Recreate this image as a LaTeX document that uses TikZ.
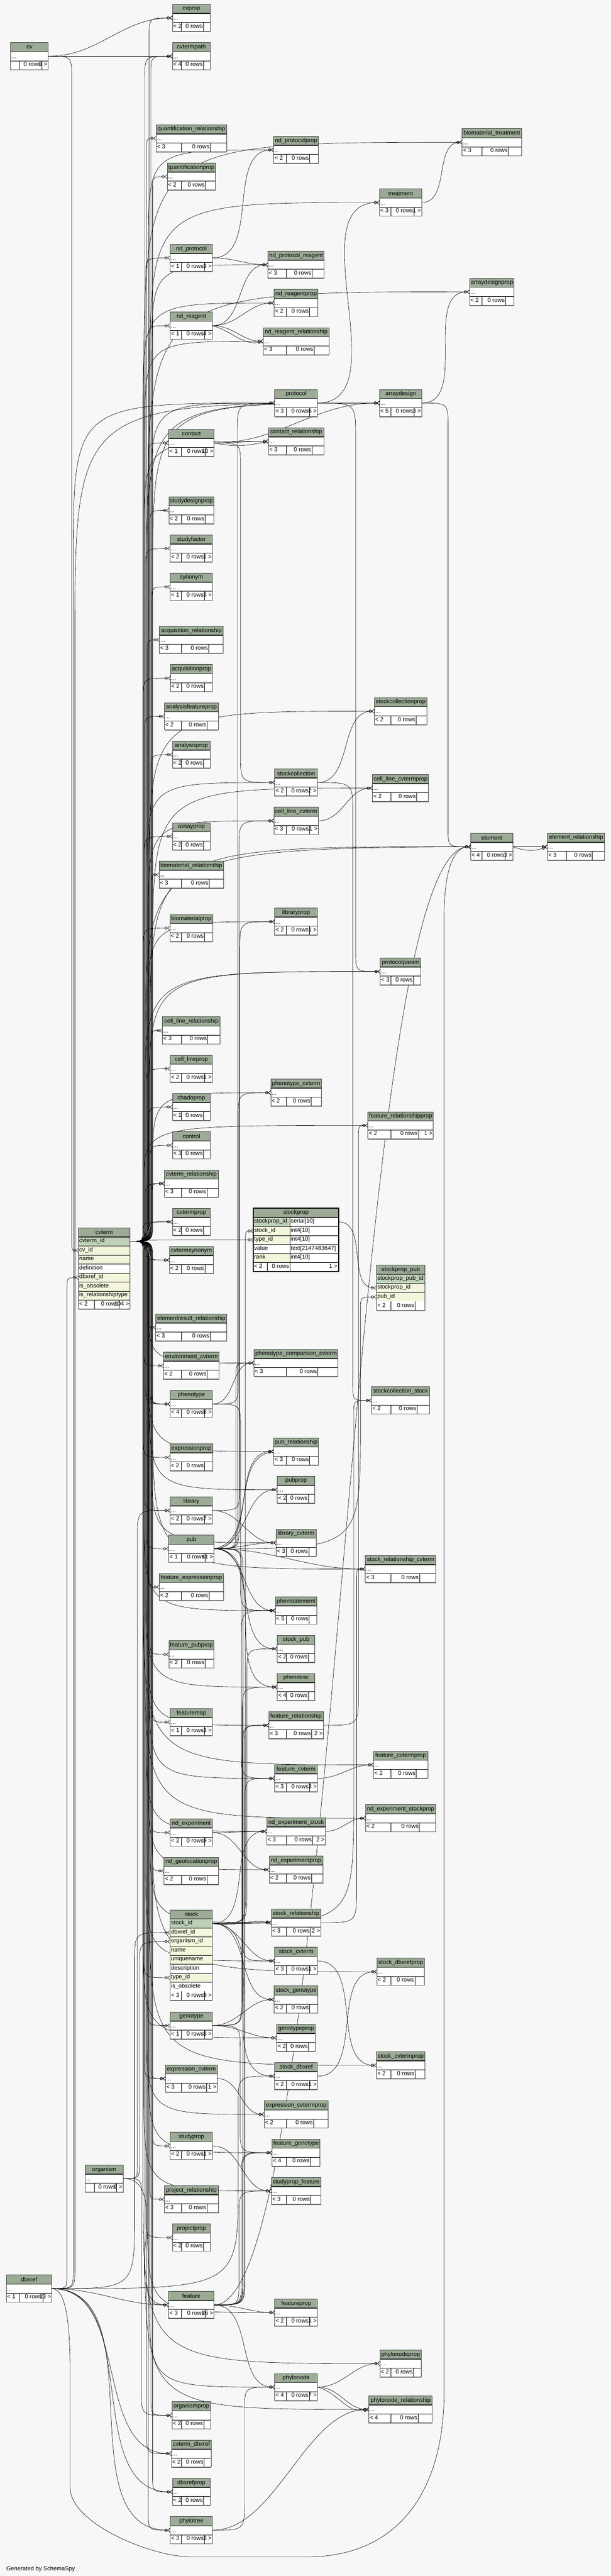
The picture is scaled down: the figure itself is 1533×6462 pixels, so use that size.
\documentclass[tikz,border=0pt]{standalone}
\usepackage{fontspec}
\setmainfont{Liberation Sans}
\usetikzlibrary{arrows.meta,calc}
\pgfdeclarelayer{bg}
\pgfdeclarelayer{edges}
\pgfsetlayers{bg,edges,main}
\definecolor{bgc}{HTML}{F7F7F7}
\definecolor{hdrc}{HTML}{9BAB96}
\definecolor{pkc}{HTML}{BED1B8}
\definecolor{ixc}{HTML}{F4F6DC}
\newcommand\tfont{\fontsize{14.67pt}{17pt}\selectfont}
\def\rowh{22.7}
\newlength\fwa \newlength\fwc
\tikzset{
  txt/.style={font=\tfont, inner sep=0pt, outer sep=0pt, text=black},
  tnode/.style={draw=none, inner sep=0pt, outer sep=0pt, rectangle},
  rowcell/.style={draw=black, line width=0.8pt, inner sep=0pt, outer sep=0pt, rectangle},
  cellline/.style={draw=black, line width=0.8pt},
  hdrline/.style={draw=black!85, line width=2pt},
  tborder/.style={draw=black!75, line width=1.2pt},
  shadowline/.style={draw=black!60, line width=2.2pt},
  fkline/.style={draw=black, line width=0.8pt, -{Circle[open,length=7pt,width=7pt] Straight Barb[reversed,length=6pt,width=10pt]}},
}
% footer row: #1 x0, #2 y, #3 W, #4 left text, #5 right text, #6 middle text
\newcommand\myfoot[6]{%
  \settowidth\fwa{\tfont #4}\settowidth\fwc{\tfont #5}%
  \pgfmathsetmacro\myna{\fwa>0 ? \fwa+1 : 8}%
  \pgfmathsetmacro\mync{\fwc>0 ? \fwc+5 : 8}%
  \pgfmathsetmacro\myex{max(#3-\myna-50-\mync,0)}%
  \pgfmathsetmacro\myca{#1+\myna+0.5*\myex}%
  \pgfmathsetmacro\mycb{\myca+50+0.2*\myex}%
  \pgfmathsetmacro\myfy{#2}%
  \draw[cellline] (\myca,\myfy) -- ++(0,\rowh) (\mycb,\myfy) -- ++(0,\rowh);
  \node[txt,anchor=mid west] at ({#1+2},{\myfy+\rowh/2}) {#4};
  \node[txt,anchor=mid east] at ({\mycb-2},{\myfy+\rowh/2}) {#6};
  \node[txt,anchor=mid east] at ({#1+#3-2},{\myfy+\rowh/2}) {#5};
}
% collapsed table: #1 id, #2 centre x, #3 top y, #4 width, #5 left footer, #6 right footer
\newcommand\mytbl[6]{%
  \pgfmathsetmacro\myx{#2-#4/2}%
  \node[tnode, minimum width=#4pt, minimum height=68.1pt] (#1) at (#2,{#3+34.05}) {};
  \fill[white] (\myx,#3) rectangle ++(#4,68.1);
  \fill[hdrc] (\myx,#3) rectangle ++(#4,\rowh);
  \node[txt] at (#2,{#3+\rowh/2}) {\detokenize{#1}};
  \node[txt,anchor=mid west] at ({\myx+2},{#3+1.62*\rowh}) {...};
  \draw[cellline] (\myx,{#3+2*\rowh}) -- ++(#4,0);
  \myfoot{\myx}{#3+2*\rowh}{#4}{#5}{#6}{0 rows}
  \draw[hdrline] (\myx,{#3+\rowh}) -- ++(#4,0);
  \draw[tborder] (\myx,#3) rectangle ++(#4,68.1);
  \draw[shadowline] (\myx,{#3+68.1}) -- ++(#4,0);
}
% detailed table: #1 id, #2 centre x, #3 top y, #4 width, #5 rows name/colour, #6 left, #7 right
\newcommand\mydtbl[7]{%
  \pgfmathsetmacro\myx{#2-#4/2}%
  \fill[hdrc] (\myx,#3) rectangle ++(#4,\rowh);
  \node[txt] at (#2,{#3+\rowh/2}) {\detokenize{#1}};
  \foreach \rn/\rs [count=\ri] in {#5} {%
    \node[rowcell, fill=\rs, minimum width=#4pt, minimum height=22.7pt, anchor=north west] (#1-\rn) at (\myx,{#3+\ri*\rowh}) {};
    \node[txt, anchor=mid west] at ({\myx+2},{#3+(\ri+0.5)*\rowh}) {\expandafter\detokenize\expandafter{\rn}};
    \xdef\mylast{\ri}%
  }%
  \pgfmathsetmacro\myfy{#3+(\mylast+1)*\rowh}%
  \fill[white] (\myx,\myfy) rectangle ++(#4,\rowh);
  \myfoot{\myx}{\myfy}{#4}{#6}{#7}{0 rows}
  \pgfmathsetmacro\myh{(\mylast+2)*\rowh}%
  \node[tnode, minimum width=#4pt, minimum height=\myh*1pt, anchor=north west] (#1) at (\myx,#3) {};
  \draw[hdrline] (\myx,{#3+\rowh}) -- ++(#4,0);
  \draw[tborder] (\myx,#3) rectangle ++(#4,\myh);
  \draw[shadowline] (\myx,{#3+\myh}) -- ++(#4,0);
}
% connector through a vertical run at x=#3
\newcommand\myfk[3]{%
  \draw[fkline] let \p1=(#1), \p2=(#2),
    \n2={ifthenelse(\y2>\y1,1,-1)},
    \n3={min(abs(\y2-(\y1))/2, max(30pt, 0.8*(\x2-#3pt)))},
    \n4={min(abs(\y2-(\y1))/2, max(25pt, 0.9*(#3pt-(\x1))))}
  in (\p1) .. controls (#3pt,\y1) .. (#3pt,{\y1+(\n2)*(\n4)})
     -- (#3pt,{\y2-(\n2)*(\n3)}) .. controls (#3pt,\y2) .. (\p2);%
}
\newcommand\myfkd[3][]{\draw[fkline] (#2) to[out=0,in=180,#1] (#3);}
\newcommand\myfkc[3]{\draw[fkline] (#1) .. controls +(#3,0) and +(-#3,0) .. (#2);}

\begin{document}
\begin{tikzpicture}[x=1pt,y=-1pt]
\useasboundingbox (0,0) rectangle (1533,6462);
\begin{pgfonlayer}{bg}
\fill[bgc] (0,0) rectangle (1533,6462);
\end{pgfonlayer}

% ---------- left tables
\mytbl{cv}{74}{107}{94}{}{3 >}
\mytbl{dbxref}{73}{5707}{114}{< 1}{23 >}
\mytbl{organism}{261.5}{5431}{95}{}{9 >}
\mydtbl{cvterm}{261.5}{3080}{129}{cvterm_id/pkc, cv_id/ixc, name/ixc, definition/white, dbxref_id/ixc, is_obsolete/ixc, is_relationshiptype/ixc}{< 2}{104 >}

% ---------- column C
\mytbl{cvprop}{480.5}{11}{95}{< 2}{}
\mytbl{cvtermpath}{480.5}{107}{95}{< 4}{}
\mytbl{quantification_relationship}{480.5}{313}{177}{< 3}{}
\mytbl{quantificationprop}{480.5}{409}{121}{< 2}{}
\mytbl{nd_protocol}{480.5}{613}{106}{< 1}{3 >}
\mytbl{nd_reagent}{480.5}{783}{106}{< 1}{4 >}
\mytbl{contact}{480.5}{1077}{114}{< 1}{10 >}
\mytbl{studydesignprop}{480.5}{1246}{113}{< 2}{}
\mytbl{studyfactor}{480.5}{1342}{106}{< 2}{1 >}
\mytbl{synonym}{480.5}{1438}{106}{< 1}{3 >}
\mytbl{acquisition_relationship}{480.5}{1571}{160}{< 3}{}
\mytbl{acquisitionprop}{480.5}{1667}{105}{< 2}{}
\mytbl{analysisfeatureprop}{480.5}{1763}{135}{< 2}{}
\mytbl{analysisprop}{480.5}{1859}{95}{< 2}{}
\mytbl{assayprop}{480.5}{2064}{95}{< 2}{}
\mytbl{biomaterial_relationship}{480.5}{2160}{162}{< 3}{}
\mytbl{biomaterialprop}{480.5}{2294}{107}{< 2}{}
\mytbl{cell_line_relationship}{480.5}{2551}{145}{< 3}{}
\mytbl{cell_lineprop}{480.5}{2647}{106}{< 2}{1 >}
\mytbl{chadoprop}{480.5}{2743}{95}{< 1}{}
\mytbl{control}{480.5}{2839}{95}{< 3}{}
\mytbl{cvterm_relationship}{480.5}{2935}{135}{< 3}{}
\mytbl{cvtermprop}{480.5}{3031}{95}{< 2}{}
\mytbl{cvtermsynonym}{480.5}{3127}{110}{< 2}{}
\mytbl{elementresult_relationship}{480.5}{3296}{178}{< 3}{}
\mytbl{environment_cvterm}{480.5}{3392}{140}{< 2}{}
\mytbl{phenotype}{480.5}{3488}{106}{< 4}{6 >}
\mytbl{expressionprop}{480.5}{3622}{107}{< 2}{}
\mytbl{library}{480.5}{3755}{106}{< 2}{7 >}
\mytbl{pub}{480.5}{3851}{114}{< 1}{41 >}
\mytbl{feature_expressionprop}{480.5}{3947}{161}{< 2}{}
\mytbl{feature_pubprop}{480.5}{4116}{113}{< 2}{}
\mytbl{featuremap}{480.5}{4286}{106}{< 1}{3 >}
\mytbl{nd_experiment}{480.5}{4563}{106}{< 2}{9 >}
\mytbl{nd_geolocationprop}{480.5}{4659}{137}{< 2}{}
\mydtbl{stock}{480.5}{4791}{106}{stock_id/pkc, dbxref_id/ixc, organism_id/ixc, name/ixc, uniquename/ixc, description/white, type_id/ixc, is_obsolete/white}{< 3}{9 >}
\mytbl{genotype}{480.5}{5047}{106}{< 1}{8 >}
\mytbl{expression_cvterm}{480.5}{5180}{130}{< 3}{1 >}
\mytbl{studyprop}{480.5}{5349}{106}{< 2}{1 >}
\mytbl{project_relationship}{480.5}{5483}{135}{< 3}{}
\mytbl{projectprop}{480.5}{5579}{95}{< 2}{}
\mytbl{feature}{480.5}{5748}{114}{< 3}{26 >}
\mytbl{organismprop}{480.5}{6025}{97}{< 2}{}
\mytbl{cvterm_dbxref}{480.5}{6121}{100}{< 2}{}
\mytbl{dbxrefprop}{480.5}{6217}{95}{< 2}{}
\mytbl{phylotree}{480.5}{6313}{106}{< 3}{3 >}

% ---------- column D
\mytbl{nd_protocolprop}{743.5}{342}{112}{< 2}{}
\mytbl{nd_protocol_reagent}{743.5}{630}{141}{< 3}{}
\mytbl{nd_reagentprop}{743.5}{726}{110}{< 2}{}
\mytbl{nd_reagent_relationship}{743.5}{822}{165}{< 3}{}
\mytbl{protocol}{743.5}{977}{107}{< 3}{6 >}
\mytbl{contact_relationship}{743.5}{1073}{139}{< 3}{}
\mytbl{stockcollection}{743.5}{1929}{107}{< 2}{2 >}
\mytbl{cell_line_cvterm}{743.5}{2025}{111}{< 3}{1 >}
\mytbl{libraryprop}{743.5}{2278}{107}{< 2}{1 >}
\mytbl{phenotype_cvterm}{743.5}{2707}{127}{< 2}{}
\mytbl{phenotype_comparison_cvterm}{743.5}{3385}{211}{< 3}{}
\mytbl{pub_relationship}{743.5}{3607}{112}{< 3}{}
\mytbl{pubprop}{743.5}{3703}{94}{< 2}{}
\mytbl{library_cvterm}{743.5}{3836}{100}{< 3}{}
\mytbl{phenstatement}{743.5}{4006}{104}{< 5}{}
\mytbl{stock_pub}{743.5}{4102}{94}{< 2}{}
\mytbl{phendesc}{743.5}{4198}{94}{< 4}{}
\mytbl{feature_relationship}{743.5}{4294}{137}{< 3}{2 >}
\mytbl{feature_cvterm}{743.5}{4427}{107}{< 3}{3 >}
\mytbl{nd_experiment_stock}{743.5}{4560}{147}{< 3}{2 >}
\mytbl{nd_experimentprop}{743.5}{4656}{134}{< 2}{}
\mytbl{stock_relationship}{743.5}{4789}{124}{< 3}{2 >}
\mytbl{stock_cvterm}{743.5}{4885}{107}{< 3}{1 >}
\mytbl{stock_genotype}{743.5}{4982}{110}{< 2}{}
\mytbl{genotypeprop}{743.5}{5078}{97}{< 2}{}
\mytbl{stock_dbxref}{743.5}{5174}{107}{< 2}{1 >}
\mytbl{expression_cvtermprop}{743.5}{5270}{160}{< 2}{}
\mytbl{feature_genotype}{743.5}{5366}{120}{< 4}{}
\mytbl{studyprop_feature}{743.5}{5462}{124}{< 3}{}
\mytbl{featureprop}{743.5}{5767}{107}{< 2}{1 >}
\mytbl{phylonode}{743.5}{5954}{107}{< 4}{7 >}

% stockprop (focus table)
\node[tnode, minimum width=214pt, minimum height=158.9pt, anchor=north west] (stockprop) at (636,3031) {};
\fill[hdrc] (636,3031) rectangle ++(214,\rowh);
\node[txt] at (743,{3031+\rowh/2}) {stockprop};
\foreach \rn/\ty/\rs [count=\ri] in {stockprop_id/serial[10]/pkc, stock_id/int4[10]/ixc, type_id/int4[10]/ixc, value/text[2147483647]/white, rank/int4[10]/ixc}{%
  \node[rowcell, fill=white, minimum width=214pt, minimum height=22.7pt, anchor=north west] (stockprop-\rn) at (636,{3031+\ri*\rowh}) {};
  \filldraw[fill=\rs, draw=black, line width=0.8pt] (636,{3031+\ri*\rowh}) rectangle ++(92,\rowh);
  \node[txt, anchor=mid west] at (638,{3031+(\ri+0.5)*\rowh}) {\expandafter\detokenize\expandafter{\rn}};
  \node[txt, anchor=mid west] at (730,{3031+(\ri+0.5)*\rowh}) {\ty};
}
\fill[white] (636,{3031+6*\rowh}) rectangle ++(214,\rowh);
\draw[cellline] (636,{3031+6*\rowh}) rectangle ++(214,\rowh);
\draw[cellline] (671,{3031+6*\rowh}) -- ++(0,\rowh) (728,{3031+6*\rowh}) -- ++(0,\rowh);
\node[txt,anchor=mid west] at (638,{3031+6.5*\rowh}) {< 2};
\node[txt,anchor=mid east] at (726,{3031+6.5*\rowh}) {0 rows};
\node[txt,anchor=mid east] at (847,{3031+6.5*\rowh}) {1 >};
\draw[hdrline] (636,{3031+\rowh}) -- ++(214,0);
\draw[black, line width=2.6pt] (636,3031) rectangle ++(214,158.9);

% ---------- column E
\mytbl{treatment}{1006}{474}{106}{< 3}{1 >}
\mytbl{arraydesign}{1006}{977}{106}{< 5}{3 >}
\mytbl{stockcollectionprop}{1006}{1750}{132}{< 2}{}
\mytbl{cell_line_cvtermprop}{1006}{1943}{141}{< 2}{}
\mytbl{protocolparam}{1006}{2403}{102}{< 3}{}
\mytbl{feature_relationshipprop}{1006}{2789}{164}{< 2}{1 >}
\mydtbl{stockprop_pub}{1006}{3174}{121}{stockprop_pub_id/pkc, stockprop_id/ixc, pub_id/ixc}{< 2}{}
\mytbl{stockcollection_stock}{1006}{3479}{146}{< 2}{}
\mytbl{stock_relationship_cvterm}{1006}{3902}{177}{< 3}{}
\mytbl{feature_cvtermprop}{1006}{4393}{136}{< 2}{}
\mytbl{nd_experiment_stockprop}{1006}{4527}{176}{< 2}{}
\mytbl{stock_dbxrefprop}{1006}{4912}{119}{< 2}{}
\mytbl{stock_cvtermprop}{1006}{5147}{121}{< 2}{}
\mytbl{phylonodeprop}{1006}{5895}{104}{< 2}{}
\mytbl{phylonode_relationship}{1006}{6010}{159}{< 4}{}

% ---------- columns F, G
\mytbl{biomaterial_treatment}{1235}{323}{149}{< 3}{}
\mytbl{arraydesignprop}{1235}{698}{112}{< 2}{}
\mytbl{element}{1235}{2090}{106}{< 4}{3 >}
\mytbl{element_relationship}{1446.5}{2090}{144}{< 3}{}

\node[txt, anchor=base west] (gen) at (16,6448) {Generated by SchemaSpy};

% ---------- connectors
\begin{pgfonlayer}{edges}
\foreach \tg [count=\ii] in {cvprop,cvtermpath,cvtermpath,quantification_relationship,quantificationprop,nd_protocolprop,biomaterial_treatment,treatment,nd_protocol,nd_protocol_reagent,arraydesignprop,nd_reagentprop,nd_reagent,nd_reagent_relationship,protocol,arraydesign,arraydesign,contact,contact_relationship,studydesignprop,studyfactor,synonym,acquisition_relationship,acquisitionprop,stockcollectionprop,analysisfeatureprop,analysisprop,stockcollection,cell_line_cvtermprop,cell_line_cvterm,assayprop,element,element_relationship,biomaterial_relationship,libraryprop,biomaterialprop,protocolparam,protocolparam,cell_line_relationship,cell_lineprop,phenotype_cvterm,chadoprop,feature_relationshipprop,control,cvterm_relationship,cvterm_relationship,cvterm_relationship,cvtermprop,cvtermprop,stockprop-type_id,cvtermsynonym,cvtermsynonym,elementresult_relationship,phenotype_comparison_cvterm,environment_cvterm,phenotype,phenotype,phenotype,pub_relationship,expressionprop,pubprop,library,library_cvterm,pub,stock_relationship_cvterm,feature_expressionprop,phenstatement,feature_pubprop,phendesc,featuremap,feature_relationship,feature_cvtermprop,feature_cvterm,nd_experiment_stockprop,nd_experiment,nd_experiment_stock,nd_geolocationprop,nd_experimentprop,stock-type_id,stock_relationship,stock_cvterm,stock_dbxrefprop,genotype,genotypeprop,stock_cvtermprop,expression_cvterm,expression_cvterm,expression_cvtermprop,studyprop,feature_genotype,studyprop_feature,project_relationship,projectprop,feature,featureprop,phylonodeprop,phylonode,phylonode_relationship,organismprop,cvterm_dbxref,dbxrefprop,phylotree}{%
  \pgfmathsetmacro\bx{359+mod(\ii*7,12)*2.2}%
  \myfk{cvterm-cvterm_id.east}{\tg.west}{\bx}%
}
% cv
\myfkd{cv.east}{cvprop.west}
\myfkd{cv.east}{cvtermpath.west}
\myfk{cv.east}{cvterm-cv_id.west}{180}
% dbxref
\myfk{dbxref.east}{cvterm-dbxref_id.west}{168}
\myfk{dbxref.east}{protocol.west}{184}
\myfk{dbxref.east}{arraydesign.west}{188}
\myfk{dbxref.east}{stock-dbxref_id.west}{338}
\myfk{dbxref.east}{stock_dbxref.west}{598}
\myfkd{dbxref.east}{feature.west}
\myfkd{dbxref.east}{cvterm_dbxref.west}
\myfkd{dbxref.east}{dbxrefprop.west}
\myfkd{dbxref.east}{phylotree.west}
\draw[fkline] (dbxref.east) .. controls (160,5741) and (176,5800) .. (176,5950) -- (176,6240)
  .. controls (176,6330) and (380,6414) .. (480,6414) -- (770,6414)
  .. controls (1000,6414) and (1115,6250) .. (1115,6000) -- (1115,2300)
  .. controls (1115,2180) and (1140,2124) .. (element.west);
% organism
\myfk{organism.east}{stock-organism_id.west}{350}
\myfk{organism.east}{library.west}{345}
\myfkd{organism.east}{feature.west}
\myfk{organism.east}{organismprop.west}{355}
% pub
\myfk{pub.east}{protocol.west}{596}
\myfk{pub.east}{cell_line_cvterm.west}{600}
\myfk{pub.east}{phenotype_comparison_cvterm.west}{592}
\myfkd{pub.east}{pub_relationship.west}
\myfkd[out=10,in=190]{pub.east}{pub_relationship.west}
\myfkd{pub.east}{pubprop.west}
\myfkd{pub.east}{library_cvterm.west}
\myfkd{pub.east}{stock_relationship_cvterm.west}
\myfkd{pub.east}{phenstatement.west}
\myfkd{pub.east}{stock_pub.west}
\myfkd{pub.east}{phendesc.west}
\myfk{pub.east}{feature_cvterm.west}{606}
\myfk{pub.east}{stock_cvterm.west}{610}
\myfk{pub.east}{stockprop_pub-pub_id.west}{905}
% stock
\myfk{stock-stock_id.east}{stockprop-stock_id.west}{616}
\myfk{stock-stock_id.east}{stockcollection_stock.west}{888}
\myfk{stock-stock_id.east}{stock_pub.west}{620}
\myfkd{stock-stock_id.east}{nd_experiment_stock.west}
\myfkd{stock-stock_id.east}{stock_relationship.west}
\myfkd[out=-10,in=170]{stock-stock_id.east}{stock_relationship.west}
\myfkd{stock-stock_id.east}{stock_cvterm.west}
\myfkd{stock-stock_id.east}{stock_genotype.west}
\myfkd{stock-stock_id.east}{stock_dbxref.west}
\myfkd{stockprop-stockprop_id.east}{stockprop_pub-stockprop_id.west}
% others
\myfkd{contact.east}{contact_relationship.west}
\myfkd[out=-12,in=192]{contact.east}{contact_relationship.west}
\myfkd{contact.east}{arraydesign.west}
\myfk{contact.east}{stockcollection.west}{604}
\myfkd{protocol.east}{arraydesign.west}
\myfkd{protocol.east}{treatment.west}
\myfk{protocol.east}{protocolparam.west}{893}
\myfkd{arraydesign.east}{arraydesignprop.west}
\myfk{arraydesign.east}{element.west}{1125}
\myfkd{treatment.east}{biomaterial_treatment.west}
\myfkd{nd_protocol.east}{nd_protocolprop.west}
\myfkd{nd_protocol.east}{nd_protocol_reagent.west}
\myfkd{nd_reagent.east}{nd_protocol_reagent.west}
\myfkd{nd_reagent.east}{nd_reagentprop.west}
\myfkd{nd_reagent.east}{nd_reagent_relationship.west}
\myfkd[out=-15,in=195]{nd_reagent.east}{nd_reagent_relationship.west}
\myfkd{stockcollection.east}{stockcollectionprop.west}
\myfk{stockcollection.east}{stockcollection_stock.west}{886}
\myfkd{cell_line_cvterm.east}{cell_line_cvtermprop.west}
\myfkd{element.east}{element_relationship.west}
\myfkd[out=-20,in=200]{element.east}{element_relationship.west}
\myfk{library.east}{libraryprop.west}{602}
\myfkd{library.east}{library_cvterm.west}
\myfk{phenotype.east}{phenotype_cvterm.west}{598}
\myfkd{phenotype.east}{phenotype_comparison_cvterm.west}
\myfk{phenotype.east}{phenstatement.west}{604}
\myfkc{feature.east}{element.west}{320}
\myfk{feature.east}{feature_relationship.west}{610}
\myfk{feature.east}{feature_relationship.west}{613}
\myfk{feature.east}{feature_cvterm.west}{615}
\myfk{feature.east}{feature_genotype.west}{606}
\myfk{feature.east}{feature_genotype.west}{609}
\myfk{feature.east}{studyprop_feature.west}{600}
\myfkd{feature.east}{featureprop.west}
\myfkd{feature.east}{phylonode.west}
\myfk{feature_relationship.east}{feature_relationshipprop.west}{900}
\myfkd{feature_cvterm.east}{feature_cvtermprop.west}
\myfkd{nd_experiment.east}{nd_experiment_stock.west}
\myfkd{nd_experiment.east}{nd_experimentprop.west}
\myfkd{nd_experiment_stock.east}{nd_experiment_stockprop.west}
\myfk{stock_relationship.east}{stock_relationship_cvterm.west}{895}
\myfkd{stock_cvterm.east}{stock_cvtermprop.west}
\myfkd{stock_dbxref.east}{stock_dbxrefprop.west}
\myfkd{genotype.east}{stock_genotype.west}
\myfkd{genotype.east}{genotypeprop.west}
\myfk{genotype.east}{phenstatement.west}{606}
\myfk{genotype.east}{phendesc.west}{608}
\myfk{genotype.east}{feature_genotype.west}{603}
\myfkd{expression_cvterm.east}{expression_cvtermprop.west}
\myfkd{studyprop.east}{studyprop_feature.west}
\myfk{phylotree.east}{phylonode.west}{614}
\myfkc{phylotree.east}{phylonode_relationship.west}{160}
\myfkd{phylonode.east}{phylonodeprop.west}
\myfkd{phylonode.east}{phylonode_relationship.west}
\myfkd[out=-15,in=195]{phylonode.east}{phylonode_relationship.west}
\end{pgfonlayer}
\end{tikzpicture}
\end{document}
